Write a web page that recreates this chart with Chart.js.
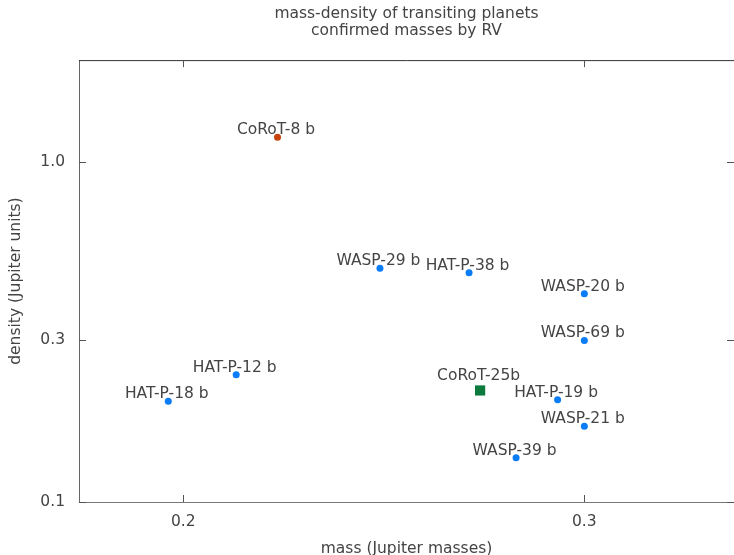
<!DOCTYPE html>
<html>
<head>
<meta charset="utf-8">
<script src="https://cdn.jsdelivr.net/npm/chart.js@4/dist/chart.umd.min.js"></script>
<style>
  html, body { margin: 0; padding: 0; background: #fff; }
  #wrap { width: 734px; height: 555px; }
</style>
</head>
<body>
<div id="wrap"><canvas id="chartMassDensity"></canvas></div>
<script>
// planets with RV-confirmed masses
const planetNames = ['WASP-29 b', 'HAT-P-38 b', 'WASP-20 b', 'WASP-69 b', 'HAT-P-12 b',
                     'HAT-P-18 b', 'HAT-P-19 b', 'WASP-21 b', 'WASP-39 b'];
const planetMasses = [0.244, 0.267, 0.300, 0.300, 0.211, 0.197, 0.292, 0.300, 0.280];
const planetDensities = [0.488, 0.473, 0.410, 0.299, 0.237, 0.198, 0.200, 0.167, 0.135];

const corot8Names = ['CoRoT-8 b'];
const corot8Masses = [0.220];
const corot8Densities = [1.185];

const corot25Names = ['CoRoT-25b'];
const corot25Masses = [0.270];
const corot25Densities = [0.213];

const xTicks = [0.2, 0.3];
const yTicks = [0.1, 0.3, 1.0];

const FONT = 'DejaVu Sans';
const FONT_SIZE = 15.5;
const TEXT = '#444';

function points(xs, ys) {
    return xs.map((x, i) => ({ x: x, y: ys[i] }));
}

// names written above each marker
const pointLabels = {
    id: 'pointLabels',
    afterDatasetsDraw(chart) {
        const ctx = chart.ctx;
        ctx.save();
        ctx.font = FONT_SIZE + 'px "' + FONT + '"';
        ctx.fillStyle = TEXT;
        ctx.textAlign = 'center';
        ctx.textBaseline = 'alphabetic';
        chart.data.datasets.forEach((ds, di) => {
            const meta = chart.getDatasetMeta(di);
            meta.data.forEach((el, i) => {
                ctx.fillText(ds.names[i], el.x - 1.5, el.y - ds.labelLift);
            });
        });
        ctx.restore();
    }
};

// top border plus inward ticks on all four sides
const frame = {
    id: 'frame',
    afterDraw(chart) {
        const { ctx, chartArea: a, scales } = chart;
        ctx.save();
        ctx.lineWidth = 1;
        ctx.strokeStyle = '#333';
        ctx.beginPath();
        ctx.moveTo(a.left, a.top + 0.5);
        ctx.lineTo(a.right, a.top + 0.5);
        ctx.stroke();

        ctx.strokeStyle = '#555';
        ctx.beginPath();
        xTicks.forEach(v => {
            const px = Math.round(scales.x.getPixelForValue(v)) + 0.5;
            ctx.moveTo(px, a.bottom);
            ctx.lineTo(px, a.bottom - 7);
            ctx.moveTo(px, a.top);
            ctx.lineTo(px, a.top + 7);
        });
        yTicks.forEach(v => {
            const py = Math.round(scales.y.getPixelForValue(v)) + 0.5;
            ctx.moveTo(a.left, py);
            ctx.lineTo(a.left + 7, py);
            ctx.moveTo(a.right, py);
            ctx.lineTo(a.right - 7, py);
        });
        ctx.stroke();
        ctx.restore();
    }
};

const dataScatter = {
    datasets: [
        {
            names: planetNames,
            labelLift: 3,
            data: points(planetMasses, planetDensities),
            backgroundColor: '#0a7cf5',
            borderWidth: 0,
            pointRadius: 3.5,
            pointStyle: 'circle',
        },
        {
            names: corot8Names,
            labelLift: 3,
            data: points(corot8Masses, corot8Densities),
            backgroundColor: '#c8420c',
            borderWidth: 0,
            pointRadius: 3.5,
            pointStyle: 'circle',
        },
        {
            names: corot25Names,
            labelLift: 10,
            data: points(corot25Masses, corot25Densities),
            backgroundColor: '#0b7a3c',
            borderWidth: 0,
            pointRadius: 7.2,
            pointStyle: 'rect',
        },
    ],
};

const configScatter = {
    type: 'scatter',
    data: dataScatter,
    plugins: [pointLabels, frame],
    options: {
        responsive: true,
        maintainAspectRatio: false,
        animation: false,
        layout: { padding: 0, autoPadding: false },
        plugins: {
            legend: { display: false },
            tooltip: { enabled: false },
            title: {
                display: true,
                fullSize: false,
                text: ['mass-density of transiting planets', 'confirmed masses by RV'],
                color: TEXT,
                font: { family: FONT, size: FONT_SIZE, weight: 'normal', lineHeight: 1.1 },
                padding: { top: 5.5, bottom: 20.5 },
            },
        },
        scales: {
            x: {
                type: 'logarithmic',
                min: 0.18,
                max: 0.349,
                afterBuildTicks: axis => { axis.ticks = xTicks.map(v => ({ value: v })); },
                afterFit: axis => {
                    axis.height = 53;
                    axis.paddingLeft = 0;
                    axis.paddingRight = 0;
                },
                ticks: {
                    color: TEXT,
                    font: { family: FONT, size: FONT_SIZE },
                    padding: 11,
                    maxRotation: 0,
                    autoSkip: false,
                    callback: v => Number(v).toFixed(1),
                },
                grid: { display: false, drawTicks: false },
                border: { display: true, color: '#777', width: 1 },
                title: {
                    display: true,
                    text: 'mass (Jupiter masses)',
                    color: TEXT,
                    font: { family: FONT, size: FONT_SIZE },
                    padding: { top: 0, bottom: -3 },
                },
            },
            y: {
                type: 'logarithmic',
                min: 0.1,
                max: 2.0,
                afterBuildTicks: axis => { axis.ticks = yTicks.map(v => ({ value: v })); },
                afterFit: axis => {
                    axis.width = 79;
                    axis.paddingTop = 0;
                    axis.paddingBottom = 0;
                },
                ticks: {
                    color: TEXT,
                    font: { family: FONT, size: FONT_SIZE },
                    padding: 14,
                    autoSkip: false,
                    callback: v => Number(v).toFixed(1),
                },
                grid: { display: false, drawTicks: false },
                border: { display: true, color: '#666', width: 1 },
                title: {
                    display: true,
                    text: 'density (Jupiter units)',
                    color: TEXT,
                    font: { family: FONT, size: FONT_SIZE },
                    padding: { top: 7, bottom: 0 },
                },
            },
        },
    },
};

var chartScatter = new Chart(
    document.getElementById('chartMassDensity'),
    configScatter
);
</script>
</body>
</html>
